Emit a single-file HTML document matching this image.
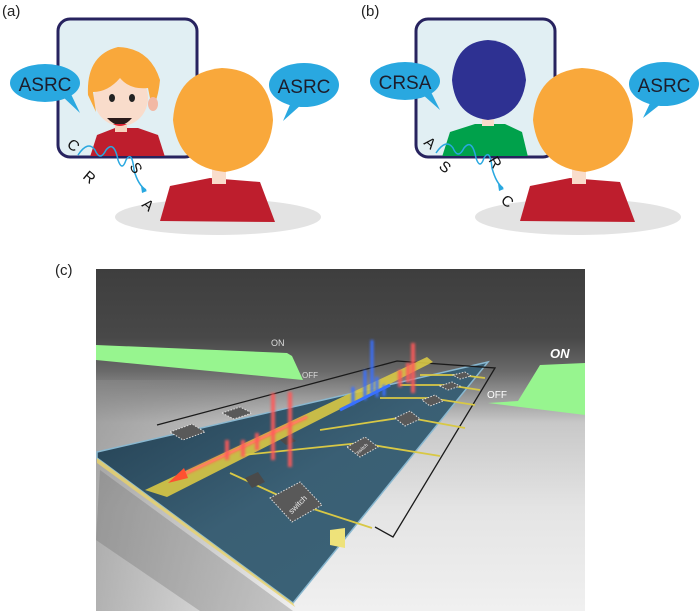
<!DOCTYPE html>
<html><head><meta charset="utf-8"><style>
html,body{margin:0;padding:0;background:#fff;}
svg{display:block;font-family:"Liberation Sans",sans-serif;}
</style></head><body>
<svg width="700" height="611" viewBox="0 0 700 611" xmlns="http://www.w3.org/2000/svg">
<defs>
<linearGradient id="bg" x1="0" y1="0" x2="0" y2="1">
<stop offset="0" stop-color="#3e3e3e"/><stop offset="0.2" stop-color="#484848"/><stop offset="0.3" stop-color="#6a6a6a"/><stop offset="0.45" stop-color="#c8c8c8"/><stop offset="0.7" stop-color="#e4e4e4"/><stop offset="1" stop-color="#f0f0f0"/></linearGradient>
<linearGradient id="lg" x1="0" y1="0" x2="1" y2="0">
<stop offset="0" stop-color="#888" stop-opacity="0.6"/><stop offset="1" stop-color="#888" stop-opacity="0"/></linearGradient>
<linearGradient id="brd" x1="0" y1="0" x2="1" y2="1">
<stop offset="0" stop-color="#1f3a4c"/><stop offset="0.5" stop-color="#3a5f74"/><stop offset="1" stop-color="#3a6478"/></linearGradient>
<filter id="gl" x="-50%" y="-50%" width="200%" height="200%"><feGaussianBlur stdDeviation="1.3"/></filter>
</defs>

<text x="2" y="16" font-size="15" fill="#222">(a)</text>
<text x="361" y="16" font-size="15" fill="#222">(b)</text>
<text x="55" y="275" font-size="15" fill="#222">(c)</text>

<!-- Panel a -->
<ellipse cx="218" cy="217" rx="103" ry="18" fill="#e3e3e3"/>
<rect x="58" y="19" width="139" height="138" rx="12" fill="#e1eff3" stroke="#27235f" stroke-width="3"/>
<clipPath id="ma"><rect x="59" y="20" width="137" height="136" rx="11"/></clipPath>
<g clip-path="url(#ma)">
<path d="M90 157 L97 135 L115 128 L138 128 L158 135 L165 157Z" fill="#be1e2d"/>
<rect x="115" y="118" width="12" height="14" fill="#f6d3bf"/>
<ellipse cx="121" cy="98" rx="27" ry="28" fill="#f9dccb"/>
<path d="M88 95 Q86 55 118 47 Q150 48 160 80 Q158 100 152 108 L148 88 Q130 90 120 78 Q108 92 93 92 L96 112Z" fill="#f9a83b"/>
<ellipse cx="153" cy="104" rx="5" ry="7" fill="#f2b8a4"/>
<ellipse cx="112" cy="98" rx="3" ry="4" fill="#222"/><ellipse cx="132" cy="98" rx="3" ry="4" fill="#222"/>
<path d="M107 118 Q120 132 132 118Z" fill="#2a1a1a"/><path d="M113 124 Q120 128 127 124Z" fill="#e02030"/>
</g>
<path d="M160 221 L170 186 L210 178 L260 182 L275 222Z" fill="#be1e2d"/>
<rect x="212" y="168" width="14" height="16" fill="#f9dccb"/>
<path d="M173 120 Q176 72 222 68 Q270 70 273 120 Q270 165 225 172 Q178 167 173 120Z" fill="#f9a83b"/>
<ellipse cx="45" cy="83" rx="35" ry="19" fill="#29a8e0"/><path d="M62 96 L80 113 L70 92Z" fill="#29a8e0"/>
<text x="45" y="91" font-size="19" text-anchor="middle" fill="#1d1d2b">ASRC</text>
<ellipse cx="304" cy="85" rx="35" ry="22" fill="#29a8e0"/><path d="M292 100 L283 121 L302 104Z" fill="#29a8e0"/>
<text x="304" y="93" font-size="19" text-anchor="middle" fill="#1d1d2b">ASRC</text>
<path d="M78 155 Q88 140 95 150 Q100 162 106 150 Q114 140 118 160 Q122 172 126 160 Q132 150 134 170 Q138 185 146 190" fill="none" stroke="#29a8e0" stroke-width="1.5"/>
<path d="M141 186 L147 191 L142 193Z" fill="#29a8e0"/>
<text x="68" y="150" font-size="15" fill="#111" transform="rotate(40 73 145)">C</text>
<text x="84" y="182" font-size="15" fill="#111" transform="rotate(40 89 177)">R</text>
<text x="131" y="173" font-size="15" fill="#111" transform="rotate(60 136 168)">S</text>
<text x="143" y="210" font-size="15" fill="#111" transform="rotate(40 148 205)">A</text>

<!-- Panel b -->
<ellipse cx="578" cy="217" rx="103" ry="18" fill="#e3e3e3"/>
<rect x="416" y="19" width="139" height="138" rx="12" fill="#e1eff3" stroke="#27235f" stroke-width="3"/>
<clipPath id="mb"><rect x="417" y="20" width="137" height="136" rx="11"/></clipPath>
<g clip-path="url(#mb)">
<path d="M442 157 L450 132 L475 124 L505 124 L522 132 L528 157Z" fill="#00a14b"/>
<rect x="482" y="116" width="12" height="10" fill="#f9dccb"/>
<path d="M452 80 Q455 42 488 40 Q522 42 526 80 Q522 116 488 120 Q455 116 452 80Z" fill="#2e3192"/>
</g>
<path d="M520 221 L530 186 L570 178 L620 182 L635 222Z" fill="#be1e2d"/>
<rect x="572" y="168" width="14" height="16" fill="#f9dccb"/>
<path d="M533 120 Q536 72 582 68 Q630 70 633 120 Q630 165 585 172 Q538 167 533 120Z" fill="#f9a83b"/>
<ellipse cx="405" cy="81" rx="35" ry="19" fill="#29a8e0"/><path d="M422 94 L440 110 L430 90Z" fill="#29a8e0"/>
<text x="405" y="89" font-size="19" text-anchor="middle" fill="#1d1d2b">CRSA</text>
<ellipse cx="664" cy="84" rx="35" ry="22" fill="#29a8e0"/><path d="M652 99 L643 118 L662 103Z" fill="#29a8e0"/>
<text x="664" y="92" font-size="19" text-anchor="middle" fill="#1d1d2b">ASRC</text>
<path d="M436 153 Q446 138 453 148 Q458 160 464 148 Q472 138 476 158 Q480 170 484 158 Q490 148 492 168 Q496 183 503 188" fill="none" stroke="#29a8e0" stroke-width="1.5"/>
<path d="M498 184 L504 189 L499 191Z" fill="#29a8e0"/>
<text x="425" y="148" font-size="15" fill="#111" transform="rotate(40 430 143)">A</text>
<text x="440" y="172" font-size="15" fill="#111" transform="rotate(40 445 167)">S</text>
<text x="490" y="167" font-size="15" fill="#111" transform="rotate(60 495 162)">R</text>
<text x="502" y="206" font-size="15" fill="#111" transform="rotate(40 507 201)">C</text>

<!-- Panel c -->
<rect x="96" y="269" width="489" height="342" fill="url(#bg)"/>
<rect x="96" y="380" width="200" height="231" fill="url(#lg)"/>
<!-- green bands -->
<polygon points="96,345 287,353 292,356 303,380 96,360" fill="#97f58f"/>
<polygon points="488,403 518,401 540,365 585,363 585,415" fill="#97f58f"/>
<text x="271" y="346" font-size="9" fill="#ddd">ON</text>
<text x="302" y="378" font-size="8" fill="#ddd">OFF</text>
<text x="550" y="358" font-size="13" font-style="italic" fill="#fff" font-weight="bold">ON</text>
<text x="487" y="398" font-size="10" fill="#fff">OFF</text>
<!-- shadow of board -->
<polygon points="100,470 293,611 200,611 96,540" fill="#666" opacity="0.3"/>
<!-- board -->
<polygon points="97,452 488,362 293,603 97,458" fill="url(#brd)" stroke="#8ab8d0" stroke-width="1.5"/>
<polygon points="97,458 293,603 295,607 97,463" fill="#e8d26a" opacity="0.8"/>
<!-- frame line -->
<polyline points="157,425 397,361 495,368 393,537 375,527" fill="none" stroke="#1a1a1a" stroke-width="1.3"/>
<!-- main trace -->
<polygon points="145,490 427,357 433,362 167,497" fill="#d8c845" opacity="0.9"/>
<g stroke="#d8c845" stroke-width="1.8" fill="none">
<line x1="230" y1="473" x2="295" y2="503"/><line x1="295" y1="503" x2="372" y2="528"/>
<line x1="243" y1="455" x2="360" y2="443"/><line x1="360" y1="443" x2="440" y2="456"/>
<line x1="320" y1="430" x2="405" y2="417"/><line x1="405" y1="417" x2="465" y2="428"/>
<line x1="380" y1="398" x2="430" y2="398"/><line x1="430" y1="398" x2="475" y2="405"/>
<line x1="400" y1="385" x2="447" y2="385"/><line x1="447" y1="385" x2="480" y2="390"/>
<line x1="420" y1="375" x2="460" y2="375"/><line x1="460" y1="375" x2="485" y2="378"/>
</g>
<polygon points="330,530 345,528 345,548 330,545" fill="#eee27a"/>
<!-- chips -->
<g fill="#595959" stroke="#ddd" stroke-width="1" stroke-dasharray="1.5 1.5">
<polygon points="270,498 300,482 322,505 292,522"/>
<polygon points="347,447 365,437 378,447 360,457"/>
<polygon points="395,418 410,411 420,419 405,426"/>
<polygon points="422,400 435,395 443,401 430,406"/>
<polygon points="170,432 192,424 205,432 183,440"/>
<polygon points="222,413 240,407 252,413 234,419"/>
<polygon points="440,386 452,382 460,386 448,390"/>
<polygon points="453,375 465,372 471,376 460,379"/>
</g>
<g fill="#4a4a4a"><polygon points="245,478 258,472 265,482 252,488"/><polygon points="280,440 290,436 296,441 286,445"/></g>
<text x="285" y="508" font-size="8" fill="#eee" transform="rotate(-45 296 503)">switch</text>
<text x="354" y="450" font-size="5" fill="#eee" transform="rotate(-40 362 447)">switch</text>
<!-- arrow -->
<line x1="178" y1="477" x2="307" y2="417" stroke="#ff7050" stroke-width="3" filter="url(#gl)"/>
<line x1="178" y1="477" x2="307" y2="417" stroke="#ff8060" stroke-width="2"/>
<polygon points="168,483 184,468 188,478" fill="#ff5030"/>
<!-- waves red -->
<g fill="none" stroke="#ff5a5a" stroke-width="4" filter="url(#gl)" opacity="0.9">
<path d="M227 440 L227 460 M243 440 L243 457 M257 433 L257 450"/>
<path d="M273 393 L273 460 M290 392 L290 467"/>
<path d="M413 343 L413 393 M408 363 L408 383 M400 370 L400 387"/>
</g>
<g fill="none" stroke="#3870ff" stroke-width="3" filter="url(#gl)">
<path d="M372 340 L372 393 M365 370 L365 400 M377 377 L377 397 M353 387 L353 405 M384 385 L384 396"/>
</g>
<line x1="340" y1="410" x2="390" y2="385" stroke="#3870ff" stroke-width="3"/>
</svg>
</body></html>
